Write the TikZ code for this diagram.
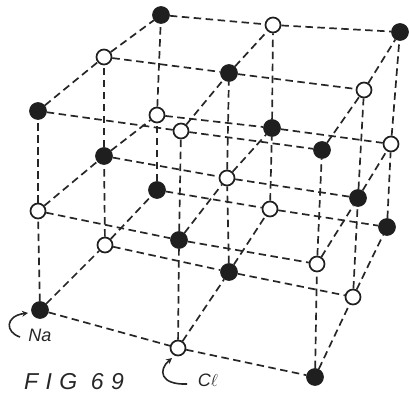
\documentclass[tikz,border=0pt]{standalone}
\usepackage{fontspec}
\setmainfont{Liberation Sans}
\usetikzlibrary{arrows.meta}
\tikzset{
  x=1pt,y=-1pt,
  atom/.style={circle,draw=black!88,line width=1.7pt,inner sep=0pt,minimum size=15pt},
  blackatom/.style={atom,fill=black!88,minimum size=16pt},
  whiteatom/.style={atom,fill=white},
  bond/.style={black!85,line width=1.7pt,dash pattern=on 7.5pt off 4.5pt},
  pointer/.style={black!85,line width=1.6pt,-{Stealth[length=6pt,width=6pt]}},
  hand/.style={inner sep=0pt,text=black!85}
}
\begin{document}
\begin{tikzpicture}
\useasboundingbox (0,0) rectangle (409,401);
% index: column (a), depth (b), layer (c)
\foreach \n/\px/\py/\kind in {
 a0b0c2/38/111/blackatom, a1b0c2/181/131/whiteatom, a2b0c2/322/150/blackatom,
 a0b1c2/104/57/whiteatom, a1b1c2/229/73/blackatom, a2b1c2/364/90/whiteatom,
 a0b2c2/161/15/blackatom, a1b2c2/273/25/whiteatom, a2b2c2/400/32/blackatom,
 a0b0c1/38/211/whiteatom, a1b0c1/179/240/blackatom, a2b0c1/317/264/whiteatom,
 a0b1c1/104/156/blackatom, a1b1c1/227/178/whiteatom, a2b1c1/358/198/blackatom,
 a0b2c1/157/115/whiteatom, a1b2c1/272/128/blackatom, a2b2c1/391/144/whiteatom,
 a0b0c0/40/310/blackatom, a1b0c0/178/348/whiteatom, a2b0c0/315/377/blackatom,
 a0b1c0/105/245/whiteatom, a1b1c0/229/272/blackatom, a2b1c0/353/297/whiteatom,
 a0b2c0/157/190/blackatom, a1b2c0/270/209/whiteatom, a2b2c0/387/227/blackatom}
  {\node[\kind] (\n) at (\px,\py) {};}
% bonds along the three axes
\foreach \u in {0,1,2}{\foreach \v in {0,1,2}{
  \draw[bond] (a0b\u c\v) -- (a1b\u c\v);
  \draw[bond] (a1b\u c\v) -- (a2b\u c\v);
  \draw[bond] (a\u b0c\v) -- (a\u b1c\v);
  \draw[bond] (a\u b1c\v) -- (a\u b2c\v);
  \draw[bond] (a\u b\v c0) -- (a\u b\v c1);
  \draw[bond] (a\u b\v c1) -- (a\u b\v c2);
}}
% labels
\coordinate (naStart) at (20,337);
\coordinate (naTip) at (28,313);
\coordinate (clStart) at (187,384);
\coordinate (clTip) at (172,358);
\draw[pointer] (naStart) .. controls (5,332) and (5,316) .. (naTip);
\draw[pointer] (clStart) .. controls (160,385) and (158,370) .. (clTip);
\node[hand,font=\itshape\fontsize{18}{18}\selectfont] (na) at (40,335) {Na};
\node[hand,font=\itshape\fontsize{18}{18}\selectfont] (cl) at (208,380) {C$\ell$};
\node[hand,font=\itshape\fontsize{23}{23}\selectfont\addfontfeature{LetterSpace=32}] (fig) at (74,382) {FIG 69};
\end{tikzpicture}
\end{document}
